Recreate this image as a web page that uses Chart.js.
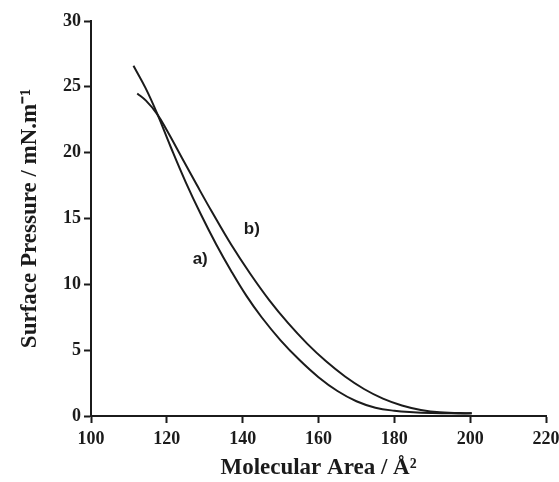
<!DOCTYPE html>
<html>
<head>
<meta charset="utf-8">
<script src="https://cdn.jsdelivr.net/npm/chart.js@4"></script>
<style>
  html, body { margin: 0; padding: 0; background: #fff; }
  #wrap { width: 559px; height: 482px; }
</style>
</head>
<body>
<div id="wrap"><canvas id="isotherm" width="559" height="482"></canvas></div>
<script>
// isotherm a)
const areaA = [111.2, 114.4, 117.4, 121, 125, 129, 133, 137, 141, 145, 150, 155, 160, 165, 170, 175, 180, 185, 190, 195, 200.4];
const pressureA = [26.6, 24.9, 23.0, 20.45, 17.75, 15.3, 13.05, 11.0, 9.12, 7.5, 5.75, 4.25, 2.95, 1.9, 1.12, 0.63, 0.4, 0.29, 0.23, 0.2, 0.2];

// isotherm b)
const areaB = [112.2, 114.5, 117.4, 120, 124, 128, 132, 137, 142, 147, 152, 157, 162, 167, 172, 177, 182, 187, 192, 200.4];
const pressureB = [24.5, 23.95, 22.95, 21.7, 19.6, 17.5, 15.45, 13.0, 10.8, 8.8, 7.05, 5.5, 4.15, 3.0, 2.05, 1.32, 0.8, 0.46, 0.28, 0.2];

const xTicks = [100, 120, 140, 160, 180, 200, 220];
const yTicks = [0, 5, 10, 15, 20, 25, 30];

// curve tags: text, area, pressure
const tags = [
  ['a)', 128.8, 11.9],
  ['b)', 142.4, 14.2]
];

function toPoints(xs, ys) {
  return xs.map((x, i) => ({ x: x, y: ys[i] }));
}

const serif = '"Liberation Serif", "Times New Roman", serif';
const ink = '#1b1b1b';

const curveTags = {
  id: 'curveTags',
  afterDatasetsDraw(chart) {
    const ctx = chart.ctx;
    const sx = chart.scales.x, sy = chart.scales.y;
    ctx.save();
    ctx.fillStyle = ink;
    ctx.font = 'bold 17px "Liberation Sans", Arial, sans-serif';
    ctx.textAlign = 'center';
    ctx.textBaseline = 'middle';
    tags.forEach(t => ctx.fillText(t[0], sx.getPixelForValue(t[1]), sy.getPixelForValue(t[2])));
    ctx.restore();
  }
};

const lineStyle = {
  borderColor: ink,
  borderWidth: 2,
  pointRadius: 0,
  fill: false,
  tension: 0.4
};

new Chart(document.getElementById('isotherm'), {
  type: 'scatter',
  data: {
    datasets: [
      Object.assign({ label: 'a)', data: toPoints(areaA, pressureA), showLine: true }, lineStyle),
      Object.assign({ label: 'b)', data: toPoints(areaB, pressureB), showLine: true }, lineStyle)
    ]
  },
  options: {
    responsive: false,
    animation: false,
    layout: { padding: { top: 21, right: 13, left: 0, bottom: 0 } },
    plugins: { legend: { display: false }, tooltip: { enabled: false } },
    scales: {
      x: {
        type: 'linear',
        min: 100,
        max: 220,
        afterBuildTicks: s => { s.ticks = xTicks.map(v => ({ value: v })); },
        afterFit: s => { s.height = 66; s.paddingLeft = 0; s.paddingRight = 0; },
        border: { display: true, color: ink, width: 2 },
        grid: { drawOnChartArea: false, drawTicks: true, tickLength: 7, tickWidth: 2, tickColor: ink },
        ticks: { color: ink, padding: 6, font: { family: serif, size: 18, weight: 'bold' } },
        title: {
          display: true,
          text: 'Molecular Area / Å²',
          color: ink,
          padding: { top: 4, bottom: 0 },
          font: { family: serif, size: 23, weight: 'bold' }
        }
      },
      y: {
        type: 'linear',
        min: 0,
        max: 30,
        afterBuildTicks: s => { s.ticks = yTicks.map(v => ({ value: v })); },
        afterFit: s => { s.width = 91; s.paddingTop = 0; s.paddingBottom = 0; },
        border: { display: true, color: ink, width: 2 },
        grid: { drawOnChartArea: false, drawTicks: true, tickLength: 7, tickWidth: 2, tickColor: ink },
        ticks: { color: ink, padding: 3, font: { family: serif, size: 18, weight: 'bold' } },
        title: {
          display: true,
          text: 'Surface Pressure / mN.m⁻¹',
          color: ink,
          padding: { top: 16, bottom: 0 },
          font: { family: serif, size: 23, weight: 'bold' }
        }
      }
    }
  },
  plugins: [curveTags]
});
</script>
</body>
</html>
